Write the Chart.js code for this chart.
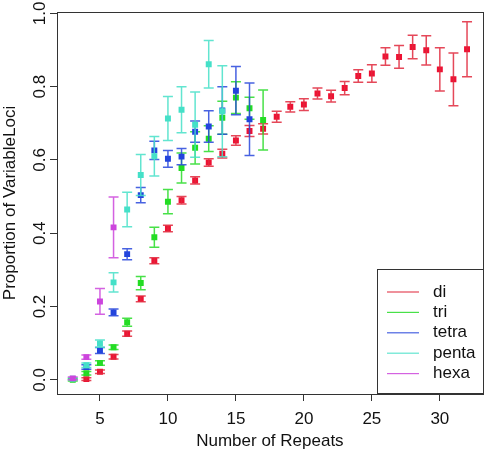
<!DOCTYPE html>
<html>
<head>
<meta charset="utf-8">
<script src="https://cdn.jsdelivr.net/npm/chart.js@4.4.1/dist/chart.umd.min.js"></script>
<style>
body { margin: 0; background: #fff; }
#mycanvas { display: block; }
</style>
</head>
<body>
<canvas id="mycanvas" width="487" height="455"></canvas>
<script>
// values (proportion and half-width of error bar)
var diX = [4,5,6,7,8,9,10,11,12,13,14,15,16,17,18,19,20,21,22,23,24,25,26,27,28,29,30,31,32];
var diY = [0.002,0.022,0.063,0.126,0.221,0.325,0.413,0.490,0.544,0.593,0.617,0.653,0.679,0.685,0.718,0.745,0.751,0.781,0.774,0.796,0.829,0.836,0.882,0.881,0.908,0.899,0.847,0.820,0.902];
var diErr = [0.004,0.005,0.006,0.007,0.008,0.008,0.009,0.010,0.010,0.010,0.012,0.013,0.015,0.014,0.015,0.014,0.016,0.015,0.016,0.018,0.017,0.024,0.024,0.031,0.032,0.040,0.059,0.072,0.075];

var triX = [3,4,5,6,7,8,9,10,11,12,13,14,15,16,17];
var triY = [0.000,0.018,0.046,0.089,0.157,0.264,0.389,0.486,0.578,0.633,0.658,0.715,0.770,0.741,0.709];
var triErr = [0.003,0.005,0.006,0.006,0.011,0.018,0.027,0.033,0.041,0.044,0.035,0.045,0.043,0.030,0.082];

var tetraX = [4,5,6,7,8,9,10,11,12,13,14,15,16];
var tetraY = [0.035,0.080,0.184,0.343,0.504,0.626,0.603,0.609,0.677,0.691,0.735,0.789,0.711];
var tetraErr = [0.006,0.008,0.009,0.015,0.021,0.025,0.023,0.022,0.029,0.043,0.065,0.066,0.099];

var pentaX = [3,4,5,6,7,8,9,10,11,12,13,14];
var pentaY = [0.003,0.040,0.099,0.266,0.465,0.559,0.610,0.713,0.737,0.696,0.861,0.733];
var pentaErr = [0.003,0.006,0.010,0.026,0.047,0.056,0.054,0.060,0.063,0.089,0.065,0.124];

var hexaX = [3,4,5,6];
var hexaY = [0.004,0.062,0.214,0.416];
var hexaErr = [0.004,0.006,0.035,0.083];

var seriesNames = ['di','tri','tetra','penta','hexa'];
var pointColors = ['#ee1133','#22dd22','#2244dd','#44e0c8','#cc44dd'];
var barColors = ['rgba(225,40,60,0.85)','rgba(40,220,40,0.85)','rgba(40,70,220,0.85)','rgba(70,225,200,0.85)','rgba(205,70,220,0.85)'];

var xTicks = [5,10,15,20,25,30];
var yTicks = [0,0.2,0.4,0.6,0.8,1.0];

var fontFamily = '"Liberation Sans", Arial, sans-serif';

function pts(xs, ys, es) {
	var out = [];
	for (var i in xs) {
		out.push({x: xs[i], y: ys[i], err: es[i]});
	}
	return out;
}

var allData = [pts(diX, diY, diErr), pts(triX, triY, triErr), pts(tetraX, tetraY, tetraErr), pts(pentaX, pentaY, pentaErr), pts(hexaX, hexaY, hexaErr)];

var datasets = [];
for (var i = 0; i < seriesNames.length; i++) {
	datasets.push({
		label: seriesNames[i],
		data: allData[i],
		order: seriesNames.length - i,
		pointStyle: 'rect',
		pointRadius: 4.2,
		pointHoverRadius: 4.2,
		borderWidth: 0,
		backgroundColor: pointColors[i],
		borderColor: pointColors[i],
		errorColor: barColors[i],
		showLine: false
	});
}

var errorBars = {
	id: 'errorBars',
	afterDatasetDraw: function(chart, args) {
		var ds = chart.data.datasets[args.index];
		var ctx = chart.ctx;
		var xs = chart.scales.x, ys = chart.scales.y;
		ctx.save();
		ctx.strokeStyle = ds.errorColor;
		ctx.lineWidth = 1.5;
		ds.data.forEach(function(p) {
			var px = xs.getPixelForValue(p.x);
			var top = ys.getPixelForValue(p.y + p.err);
			var bot = ys.getPixelForValue(p.y - p.err);
			ctx.beginPath();
			ctx.moveTo(px, top); ctx.lineTo(px, bot);
			ctx.moveTo(px - 5, top); ctx.lineTo(px + 5, top);
			ctx.moveTo(px - 5, bot); ctx.lineTo(px + 5, bot);
			ctx.stroke();
		});
		ctx.restore();
	}
};

var boxAndLegend = {
	id: 'boxAndLegend',
	afterDraw: function(chart) {
		var ctx = chart.ctx;
		var a = chart.chartArea;
		ctx.save();
		ctx.strokeStyle = '#333';
		ctx.lineWidth = 1;
		ctx.strokeRect(Math.round(a.left) + 0.5, Math.round(a.top) + 0.5, Math.round(a.right - a.left), Math.round(a.bottom - a.top));

		// legend in the lower right corner
		var w = 106, h = 124;
		var lx = Math.round(a.right) - w, ly = Math.round(a.bottom) - 1 - h;
		ctx.fillStyle = '#fff';
		ctx.fillRect(lx, ly, w, h);
		ctx.strokeRect(lx + 0.5, ly + 0.5, w, h);
		ctx.font = '17px ' + fontFamily;
		ctx.textBaseline = 'middle';
		for (var i = 0; i < seriesNames.length; i++) {
			var ry = ly + 23 + i * 20.4;
			ctx.strokeStyle = barColors[i];
			ctx.lineWidth = 1.2;
			ctx.beginPath();
			ctx.moveTo(lx + 10, ry); ctx.lineTo(lx + 42, ry);
			ctx.stroke();
			ctx.fillStyle = '#111';
			ctx.fillText(seriesNames[i], lx + 56, ry);
		}
		ctx.restore();
	}
};

var ctx = document.getElementById('mycanvas');

var chart = new Chart(ctx, {
	type: 'scatter',
	data: { datasets: datasets },
	plugins: [errorBars, boxAndLegend],
	options: {
		responsive: false,
		animation: false,
		events: [],
		layout: { padding: { top: 12, right: 4, left: 0, bottom: 0 } },
		plugins: {
			legend: { display: false },
			tooltip: { enabled: false }
		},
		scales: {
			x: {
				type: 'linear',
				min: 1.84,
				max: 33.16,
				afterBuildTicks: function(s) { s.ticks = xTicks.map(function(v) { return {value: v}; }); },
				afterFit: function(s) { s.height = 61; },
				grid: { drawOnChartArea: false, drawTicks: true, tickLength: 7, color: '#333' },
				border: { display: false },
				ticks: { color: '#111', padding: 8, maxRotation: 0, font: { size: 17, family: fontFamily } },
				title: { display: true, text: 'Number of Repeats', color: '#111', font: { size: 17, family: fontFamily }, padding: { top: 4, bottom: 3 } }
			},
			y: {
				type: 'linear',
				min: -0.0386,
				max: 1.0036,
				afterBuildTicks: function(s) { s.ticks = yTicks.map(function(v) { return {value: v}; }); },
				afterFit: function(s) { s.width = 57; },
				grid: { drawOnChartArea: false, drawTicks: true, tickLength: 7, color: '#333' },
				border: { display: false },
				ticks: {
					color: '#111', padding: -2, minRotation: 90, maxRotation: 90, crossAlign: 'center',
					font: { size: 17, family: fontFamily },
					callback: function(v) { return v.toFixed(1); }
				},
				title: { display: true, text: 'Proportion of VariableLoci', color: '#111', font: { size: 17, family: fontFamily }, padding: { top: 0, bottom: 0 } }
			}
		}
	}
});
</script>
</body>
</html>
